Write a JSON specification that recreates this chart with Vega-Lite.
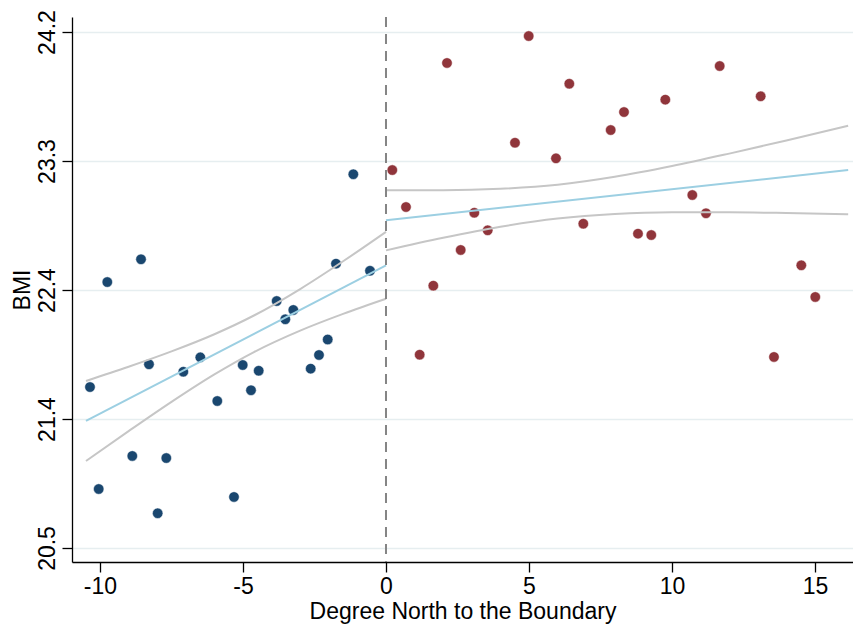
{
  "$schema": "https://vega.github.io/schema/vega-lite/v6.json",
  "width": 781,
  "height": 545,
  "autosize": {"type": "none"},
  "padding": {"left": 72, "top": 17, "right": 0, "bottom": 65},
  "background": "white",
  "config": {
    "view": {"stroke": null},
    "font": "Liberation Sans",
    "axis": {
      "labelFont": "Liberation Sans",
      "titleFont": "Liberation Sans",
      "labelFontSize": 23,
      "titleFontSize": 23,
      "titleFontWeight": "normal",
      "labelColor": "#000000",
      "titleColor": "#000000",
      "domainColor": "#000000",
      "domainWidth": 1.3,
      "tickColor": "#000000",
      "tickWidth": 1.3,
      "tickSize": 10
    }
  },
  "datasets": {
    "points": [
      {"deg": -10.35, "bmi": 21.654, "side": "left"},
      {"deg": -10.045, "bmi": 20.923, "side": "left"},
      {"deg": -9.745, "bmi": 22.407, "side": "left"},
      {"deg": -8.871, "bmi": 21.16, "side": "left"},
      {"deg": -8.566, "bmi": 22.57, "side": "left"},
      {"deg": -8.287, "bmi": 21.817, "side": "left"},
      {"deg": -7.983, "bmi": 20.749, "side": "left"},
      {"deg": -7.682, "bmi": 21.145, "side": "left"},
      {"deg": -7.087, "bmi": 21.764, "side": "left"},
      {"deg": -6.493, "bmi": 21.867, "side": "left"},
      {"deg": -5.899, "bmi": 21.554, "side": "left"},
      {"deg": -5.315, "bmi": 20.866, "side": "left"},
      {"deg": -5.01, "bmi": 21.812, "side": "left"},
      {"deg": -4.72, "bmi": 21.631, "side": "left"},
      {"deg": -4.451, "bmi": 21.771, "side": "left"},
      {"deg": -3.822, "bmi": 22.271, "side": "left"},
      {"deg": -3.521, "bmi": 22.14, "side": "left"},
      {"deg": -3.241, "bmi": 22.207, "side": "left"},
      {"deg": -2.633, "bmi": 21.786, "side": "left"},
      {"deg": -2.343, "bmi": 21.884, "side": "left"},
      {"deg": -2.038, "bmi": 21.995, "side": "left"},
      {"deg": -1.748, "bmi": 22.539, "side": "left"},
      {"deg": -1.143, "bmi": 23.18, "side": "left"},
      {"deg": -0.559, "bmi": 22.488, "side": "left"},
      {"deg": 0.22, "bmi": 23.21, "side": "right"},
      {"deg": 0.699, "bmi": 22.945, "side": "right"},
      {"deg": 1.178, "bmi": 21.886, "side": "right"},
      {"deg": 1.654, "bmi": 22.381, "side": "right"},
      {"deg": 2.133, "bmi": 23.978, "side": "right"},
      {"deg": 2.612, "bmi": 22.637, "side": "right"},
      {"deg": 3.087, "bmi": 22.904, "side": "right"},
      {"deg": 3.556, "bmi": 22.778, "side": "right"},
      {"deg": 4.51, "bmi": 23.406, "side": "right"},
      {"deg": 4.99, "bmi": 24.171, "side": "right"},
      {"deg": 5.944, "bmi": 23.294, "side": "right"},
      {"deg": 6.409, "bmi": 23.829, "side": "right"},
      {"deg": 6.899, "bmi": 22.825, "side": "right"},
      {"deg": 7.857, "bmi": 23.497, "side": "right"},
      {"deg": 8.322, "bmi": 23.626, "side": "right"},
      {"deg": 8.811, "bmi": 22.754, "side": "right"},
      {"deg": 9.276, "bmi": 22.744, "side": "right"},
      {"deg": 9.766, "bmi": 23.715, "side": "right"},
      {"deg": 10.71, "bmi": 23.031, "side": "right"},
      {"deg": 11.189, "bmi": 22.9, "side": "right"},
      {"deg": 11.668, "bmi": 23.956, "side": "right"},
      {"deg": 13.101, "bmi": 23.739, "side": "right"},
      {"deg": 13.566, "bmi": 21.87, "side": "right"},
      {"deg": 14.521, "bmi": 22.527, "side": "right"},
      {"deg": 15.01, "bmi": 22.3, "side": "right"}
    ],
    "lines": [
      {"deg": -10.49, "bmi": 21.411, "curve": "fitL", "kind": "fit"},
      {"deg": 0, "bmi": 22.527, "curve": "fitL", "kind": "fit"},
      {"deg": -10.49, "bmi": 21.698, "curve": "upL", "kind": "ci"},
      {"deg": -9, "bmi": 21.8, "curve": "upL", "kind": "ci"},
      {"deg": -7.5, "bmi": 21.91, "curve": "upL", "kind": "ci"},
      {"deg": -6, "bmi": 22.033, "curve": "upL", "kind": "ci"},
      {"deg": -4.6, "bmi": 22.169, "curve": "upL", "kind": "ci"},
      {"deg": -3, "bmi": 22.357, "curve": "upL", "kind": "ci"},
      {"deg": -1.5, "bmi": 22.556, "curve": "upL", "kind": "ci"},
      {"deg": 0, "bmi": 22.767, "curve": "upL", "kind": "ci"},
      {"deg": -10.49, "bmi": 21.124, "curve": "loL", "kind": "ci"},
      {"deg": -9, "bmi": 21.338, "curve": "loL", "kind": "ci"},
      {"deg": -7.5, "bmi": 21.548, "curve": "loL", "kind": "ci"},
      {"deg": -6, "bmi": 21.745, "curve": "loL", "kind": "ci"},
      {"deg": -4.6, "bmi": 21.907, "curve": "loL", "kind": "ci"},
      {"deg": -3, "bmi": 22.059, "curve": "loL", "kind": "ci"},
      {"deg": -1.5, "bmi": 22.179, "curve": "loL", "kind": "ci"},
      {"deg": 0, "bmi": 22.287, "curve": "loL", "kind": "ci"},
      {"deg": 0, "bmi": 22.85, "curve": "fitR", "kind": "fit"},
      {"deg": 16.16, "bmi": 23.21, "curve": "fitR", "kind": "fit"},
      {"deg": 0, "bmi": 23.066, "curve": "upR", "kind": "ci"},
      {"deg": 2, "bmi": 23.066, "curve": "upR", "kind": "ci"},
      {"deg": 4, "bmi": 23.076, "curve": "upR", "kind": "ci"},
      {"deg": 6, "bmi": 23.105, "curve": "upR", "kind": "ci"},
      {"deg": 8, "bmi": 23.162, "curve": "upR", "kind": "ci"},
      {"deg": 10, "bmi": 23.239, "curve": "upR", "kind": "ci"},
      {"deg": 12, "bmi": 23.328, "curve": "upR", "kind": "ci"},
      {"deg": 14, "bmi": 23.422, "curve": "upR", "kind": "ci"},
      {"deg": 16.16, "bmi": 23.528, "curve": "upR", "kind": "ci"},
      {"deg": 0, "bmi": 22.634, "curve": "loR", "kind": "ci"},
      {"deg": 2, "bmi": 22.724, "curve": "loR", "kind": "ci"},
      {"deg": 4, "bmi": 22.803, "curve": "loR", "kind": "ci"},
      {"deg": 6, "bmi": 22.862, "curve": "loR", "kind": "ci"},
      {"deg": 8, "bmi": 22.895, "curve": "loR", "kind": "ci"},
      {"deg": 10, "bmi": 22.907, "curve": "loR", "kind": "ci"},
      {"deg": 12, "bmi": 22.907, "curve": "loR", "kind": "ci"},
      {"deg": 14, "bmi": 22.902, "curve": "loR", "kind": "ci"},
      {"deg": 16.16, "bmi": 22.893, "curve": "loR", "kind": "ci"}
    ],
    "cutoff": [{"deg": 0}]
  },
  "layer": [
    {
      "data": {"name": "points"},
      "mark": {"type": "point", "filled": true, "opacity": 1, "size": 110, "stroke": "white", "strokeWidth": 0.5},
      "encoding": {
        "x": {
          "field": "deg", "type": "quantitative",
          "scale": {"domain": [-10.979, 16.329], "nice": false, "zero": false},
          "axis": {
            "title": "Degree North to the Boundary",
            "values": [-10, -5, 0, 5, 10, 15],
            "labelExpr": "'' + datum.value",
            "grid": false,
            "labelPadding": 3,
            "titlePadding": 2
          }
        },
        "y": {
          "field": "bmi", "type": "quantitative",
          "scale": {"domain": [20.3996, 24.3076], "nice": false, "zero": false},
          "axis": {
            "title": "BMI",
            "values": [20.5, 21.425, 22.35, 23.275, 24.2],
            "format": ".1f",
            "grid": true,
            "gridColor": "#e6eef0",
            "gridWidth": 1.5,
            "labelAngle": -90,
            "labelAlign": "center",
            "labelBaseline": "alphabetic",
            "labelPadding": 8,
            "titlePadding": 2
          }
        },
        "color": {
          "field": "side", "type": "nominal",
          "scale": {"domain": ["left", "right"], "range": ["#1a476f", "#90353b"]},
          "legend": null
        }
      }
    },
    {
      "data": {"name": "lines"},
      "mark": {"type": "line", "strokeWidth": 2, "interpolate": "monotone"},
      "encoding": {
        "x": {"field": "deg", "type": "quantitative"},
        "y": {"field": "bmi", "type": "quantitative"},
        "detail": {"field": "curve", "type": "nominal"},
        "color": {
          "field": "kind", "type": "nominal",
          "scale": {"domain": ["ci", "fit"], "range": ["#c6c6c6", "#9ccfe2"]},
          "legend": null
        }
      }
    },
    {
      "data": {"name": "cutoff"},
      "mark": {"type": "rule", "color": "#858585", "strokeWidth": 2, "strokeDash": [10, 7]},
      "encoding": {
        "x": {"field": "deg", "type": "quantitative"}
      }
    }
  ],
  "resolve": {"scale": {"color": "independent"}}
}
